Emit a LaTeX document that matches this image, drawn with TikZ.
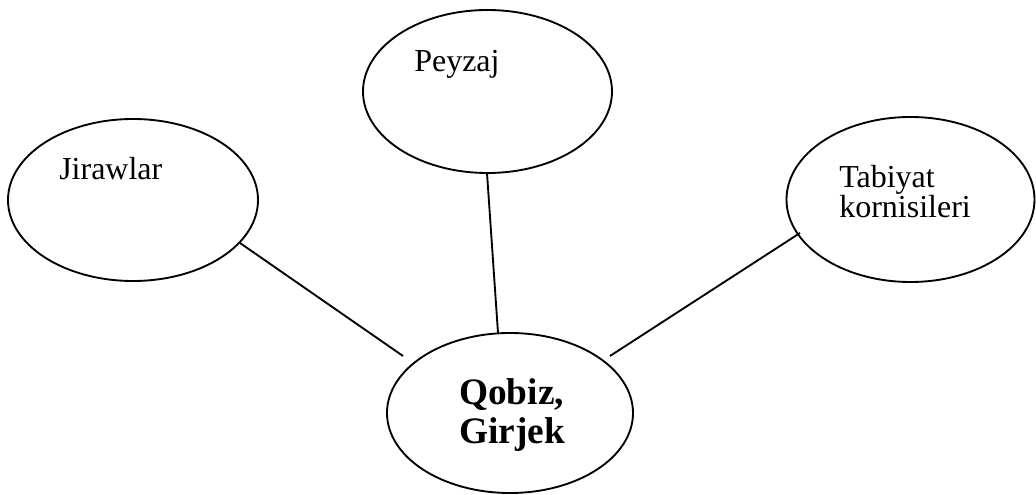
\documentclass[tikz,border=0pt]{standalone}
\usepackage{fontspec}
\setmainfont{Liberation Serif}
\usetikzlibrary{shapes.geometric}
\begin{document}
\begin{tikzpicture}[x=0.75pt,y=-0.75pt,
  bubble/.style={draw=black,line width=1.4pt,ellipse,inner sep=0pt},
  lbl/.style={anchor=base west,inner sep=0pt,font=\fontsize{24}{28}\selectfont},
  blbl/.style={anchor=base west,inner sep=0pt,font=\fontsize{28}{33}\selectfont\bfseries},
  link/.style={line width=1.4pt}]
\useasboundingbox (0,0) rectangle (1036,495);
\node[bubble,minimum width=187.5pt,minimum height=121.5pt] (jir) at (133,200) {};
\node[bubble,minimum width=186.75pt,minimum height=122.25pt] (pey) at (487.5,91.5) {};
\node[bubble,minimum width=186pt,minimum height=123.75pt] (tab) at (910.5,199.5) {};
\node[bubble,minimum width=184.5pt,minimum height=120pt] (qob) at (510,413) {};
\node[lbl] (tjir) at (59,180) {Jirawlar};
\node[lbl] (tpey) at (414,72) {Peyzaj};
\node[lbl] (ttab1) at (839,188) {Tabiyat};
\node[lbl] (ttab2) at (839,218) {kornisileri};
\node[blbl] (tqob1) at (459,405) {Qobiz,};
\node[blbl] (tqob2) at (459,443) {Girjek};
\coordinate (a1) at (240,243);
\coordinate (a2) at (403,356);
\coordinate (b1) at (487,173);
\coordinate (b2) at (498,333);
\coordinate (c1) at (800,233);
\coordinate (c2) at (610,356);
\draw[link] (a1) -- (a2);
\draw[link] (b1) -- (b2);
\draw[link] (c1) -- (c2);
\end{tikzpicture}
\end{document}
